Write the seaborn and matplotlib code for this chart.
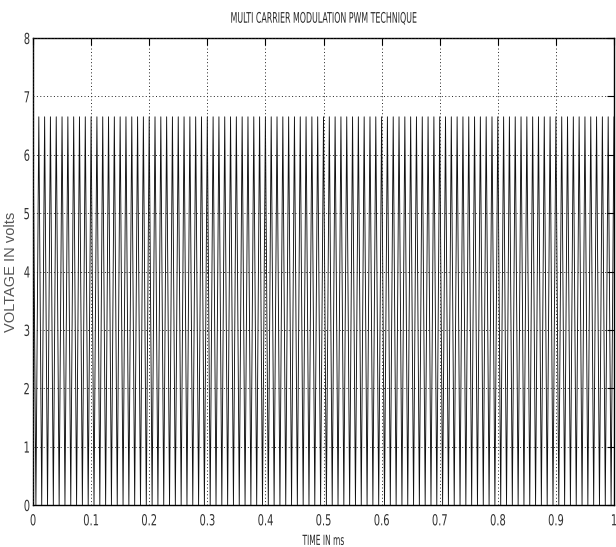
import numpy as np
import pandas as pd
import matplotlib
matplotlib.use("Agg")
import matplotlib.pyplot as plt
from matplotlib import font_manager as fm
import matplotlib.patheffects as pe
from matplotlib.transforms import Affine2D
import seaborn as sns

# ---- data ----
time_start_ms = 0.0
time_end_ms = 1.0
carrier_cycles = 100          # ~10 carrier periods per 0.1 ms
carrier_peak_v = 6.65         # top of the triangular carrier
carrier_trough_v = 0.0        # bottom of the triangular carrier
x_ticks = [0, 0.1, 0.2, 0.3, 0.4, 0.5, 0.6, 0.7, 0.8, 0.9, 1]
x_tick_labels = ["0", "0.1", "0.2", "0.3", "0.4", "0.5", "0.6", "0.7", "0.8", "0.9", "1"]
y_ticks = [0, 1, 2, 3, 4, 5, 6, 7, 8]

# triangular carrier vertices: peak, trough, peak, ...
n_vertices = 2 * carrier_cycles + 1
vertex_time = np.linspace(time_start_ms, time_end_ms, n_vertices)
vertex_volt = [carrier_peak_v if i % 2 == 0 else carrier_trough_v for i in range(n_vertices)]
df = pd.DataFrame({"time": vertex_time, "voltage": vertex_volt})

sns.set_style("white")
plt.rcParams["font.family"] = ["DejaVu Sans"]

cond_path = None
for f in fm.findSystemFonts():
    if "dejavusanscondensed.ttf" in f.lower():
        cond_path = f
        break
if cond_path is not None:
    narrow_fp = fm.FontProperties(fname=cond_path)
else:
    narrow_fp = fm.FontProperties(family="DejaVu Sans", stretch="condensed")


class Condense(pe.AbstractPathEffect):
    """Squeeze text horizontally (like Arial Narrow) while keeping it a Text artist."""
    def __init__(self, sx=0.7, anchor="center"):
        super().__init__()
        self.sx = sx
        self.anchor = anchor

    def draw_path(self, renderer, gc, tpath, affine, rgbFace=None):
        ext = tpath.get_extents()
        if self.anchor == "center":
            cx = ext.x0 + ext.width / 2
        elif self.anchor == "right":
            cx = ext.x1
        else:
            cx = ext.x0
        t = Affine2D().translate(-cx, 0).scale(self.sx, 1).translate(cx, 0) + affine
        renderer.draw_path(gc, tpath, t, rgbFace)


fig = plt.figure(figsize=(6.16, 5.47), dpi=100)
ax = fig.add_axes([33 / 616, 42 / 547, 581 / 616, 467 / 547])

sns.lineplot(data=df, x="time", y="voltage", ax=ax, color="#111111",
             linewidth=0.65, estimator=None, sort=False, antialiased=True)

ax.set_xlim(0, 1)
ax.set_ylim(0, 8)
ax.set_xticks(x_ticks)
ax.set_xticklabels(x_tick_labels)
ax.set_yticks(y_ticks)
ax.set_axisbelow(False)
ax.grid(True, color="#222222", linestyle=(0, (1, 2.5)), linewidth=0.7)
for s in ax.spines.values():
    s.set_color("black")
    s.set_linewidth(1.0)
ax.tick_params(axis="x", direction="in", length=5, color="black",
               pad=6, top=True, labelcolor="#333333")
ax.tick_params(axis="y", direction="in", length=5, color="black",
               pad=2, right=True, labelcolor="#333333")
for lab in ax.get_xticklabels():
    lab.set_fontproperties(narrow_fp)
    lab.set_fontsize(11)
    lab.set_path_effects([Condense(0.72, "center")])
for lab in ax.get_yticklabels():
    lab.set_fontproperties(narrow_fp)
    lab.set_fontsize(11)
    lab.set_path_effects([Condense(0.72, "right")])

title = ax.set_title("MULTI CARRIER MODULATION PWM TECHNIQUE", fontproperties=narrow_fp,
                     fontsize=10.5, pad=11, color="#2a2a2a")
title.set_path_effects([Condense(0.6, "center")])
xl = ax.set_xlabel("TIME IN ms", fontproperties=narrow_fp, fontsize=10, labelpad=4,
                   color="#2a2a2a")
xl.set_path_effects([Condense(0.6, "center")])
ax.set_ylabel("VOLTAGE IN volts", fontsize=10.5,
              family=["Liberation Sans", "DejaVu Sans"], color="#555555")
ax.yaxis.set_label_coords(-0.025, 0.5)

fig.savefig("out.png", dpi=100)
